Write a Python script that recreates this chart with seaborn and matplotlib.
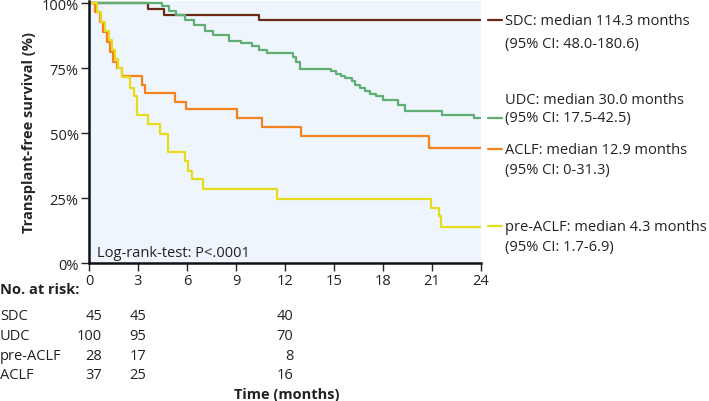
import numpy as np
import pandas as pd
import matplotlib
matplotlib.use('Agg')
import matplotlib.pyplot as plt
import matplotlib.transforms as mtransforms
import seaborn as sns

# Kaplan-Meier steps (time in months, survival in %)
sdc_t = [0, 3.6, 4.6, 10.4, 24]
sdc_s = [100, 97.8, 95.6, 93.3, 93.3]

udc_t = [0, 4.45, 4.9, 5.3, 5.9, 6.4, 7.1, 7.6, 8.6, 9.3, 10.0, 10.4, 10.9, 12.5,
         12.7, 12.9, 14.8, 15.1, 15.4, 15.7, 16.1, 16.3, 16.6, 16.9, 17.2, 17.6,
         18.0, 18.9, 19.35, 21.6, 23.6, 24]
udc_s = [100, 98.8, 97.0, 95.4, 93.5, 91.5, 89.2, 87.9, 85.6, 84.6, 83.3, 82.0,
         80.7, 79.4, 77.5, 74.6, 73.7, 72.8, 72.0, 71.1, 70.1, 68.6, 67.3, 66.0,
         65.0, 64.1, 62.8, 60.9, 58.4, 57.1, 55.8, 55.8]

aclf_t = [0, 0.37, 0.67, 0.88, 1.08, 1.29, 1.49, 1.69, 2.0, 3.22, 3.43, 5.27,
          5.95, 9.08, 10.57, 12.98, 20.8, 24]
aclf_s = [100, 96.7, 92.8, 89.0, 85.2, 81.3, 77.5, 75.0, 71.8, 68.6, 65.4, 62.0,
          59.3, 55.8, 52.2, 48.8, 44.3, 44.3]

pre_t = [0, 0.5, 0.75, 1.0, 1.2, 1.4, 1.6, 1.8, 2.0, 2.5, 2.78, 2.92, 3.63, 4.35,
         4.82, 5.88, 6.08, 6.28, 7.0, 11.53, 20.92, 21.45, 21.55, 24]
pre_s = [100, 96.4, 92.9, 89.3, 85.7, 82.1, 78.6, 75.0, 71.4, 67.3, 64.1, 57.1,
         53.5, 49.8, 42.6, 39.2, 35.4, 32.2, 28.4, 24.8, 21.3, 17.9, 13.9, 13.9]

groups = ['SDC', 'UDC', 'ACLF', 'pre-ACLF']
colors = ['#6b2a17', '#5fae72', '#f3821f', '#e6dc1c']

median_lines = ['SDC: median 114.3 months', 'UDC: median 30.0 months',
                'ACLF: median 12.9 months', 'pre-ACLF: median 4.3 months']
ci_lines = ['(95% CI: 48.0-180.6)', '(95% CI: 17.5-42.5)',
            '(95% CI: 0-31.3)', '(95% CI: 1.7-6.9)']

risk_times = [0, 3, 12]
risk_groups = ['SDC', 'UDC', 'pre-ACLF', 'ACLF']
risk_sdc = [45, 45, 40]
risk_udc = [100, 95, 70]
risk_pre = [28, 17, 8]
risk_aclf = [37, 25, 16]

frames = []
for g, t, s in zip(groups, [sdc_t, udc_t, aclf_t, pre_t], [sdc_s, udc_s, aclf_s, pre_s]):
    frames.append(pd.DataFrame({'time': t, 'surv': s, 'group': g}))
df = pd.concat(frames, ignore_index=True)

sns.set_style('ticks')
plt.rcParams['font.family'] = ['Open Sans', 'DejaVu Sans']
FS = 10.5

W, H = 709, 402
fig = plt.figure(figsize=(W / 100, H / 100), dpi=100)
ax = fig.add_axes([89 / W, 1 - 264 / H, (481 - 89) / W, 262 / H])
ax.set_facecolor('#eef5fc')

sns.lineplot(data=df, x='time', y='surv', hue='group', hue_order=groups,
             palette=dict(zip(groups, colors)), drawstyle='steps-post',
             estimator=None, linewidth=1.6, legend=False, ax=ax)

ax.set_xlim(0, 24)
ax.set_ylim(0, 100.8)
ax.set_xticks(np.arange(0, 25, 3))
ax.set_yticks([0, 25, 50, 75, 100])
ax.set_yticklabels(['0%', '25%', '50%', '75%', '100%'])
ax.set_xlabel('')
ax.set_ylabel('Transplant-free survival (%)', fontsize=FS, fontweight='bold', labelpad=4)
ax.tick_params(axis='both', labelsize=FS, length=6, width=1, color='#222222',
               pad=1.5, labelcolor='#222222')
for side in ['top', 'right']:
    ax.spines[side].set_visible(False)
for side in ['left', 'bottom']:
    ax.spines[side].set_linewidth(1.8)
    ax.spines[side].set_color('#111111')

ax.text(0.5, 4, 'Log-rank-test: P<.0001', fontsize=FS, color='#222222', va='center')

# right-hand labels with short leader lines
ends = [sdc_s[-1], udc_s[-1], aclf_s[-1], pre_s[-1]]
first_y = [93.3, 63.0, 43.8, 14.1]
second_y = [84.4, 55.8, 35.8, 6.4]
leader_y = [93.3, 55.8, 43.8, 14.1]
for col, m, c, y1, y2, ly in zip(colors, median_lines, ci_lines, first_y, second_y, leader_y):
    ax.plot([24.43, 25.29], [ly, ly], color=col, lw=1.6, clip_on=False)
    ax.text(25.45, y1, m, fontsize=FS, color='#222222', va='center', clip_on=False)
    ax.text(25.45, y2, c, fontsize=FS, color='#222222', va='center', clip_on=False)

# number at risk table
trans = mtransforms.blended_transform_factory(ax.transData, fig.transFigure)
fig.text(0 / W, 1 - 290 / H, 'No. at risk:', fontsize=FS, fontweight='bold',
         color='#222222', va='center')
row_px = [317, 337, 357, 376]
offsets = [0.8, 0.5, 0.5]
for g, vals, py in zip(risk_groups, [risk_sdc, risk_udc, risk_pre, risk_aclf], row_px):
    fig.text(0 / W, 1 - py / H, g, fontsize=FS, color='#222222', va='center')
    for t, v, off in zip(risk_times, vals, offsets):
        ax.text(t + off, 1 - py / H, str(v), transform=trans, fontsize=FS,
                color='#222222', ha='right', va='center')
ax.text(12.1, 1 - 395 / H, 'Time (months)', transform=trans, fontsize=FS,
        fontweight='bold', color='#222222', ha='center', va='center')

fig.savefig('out.png', dpi=100)
